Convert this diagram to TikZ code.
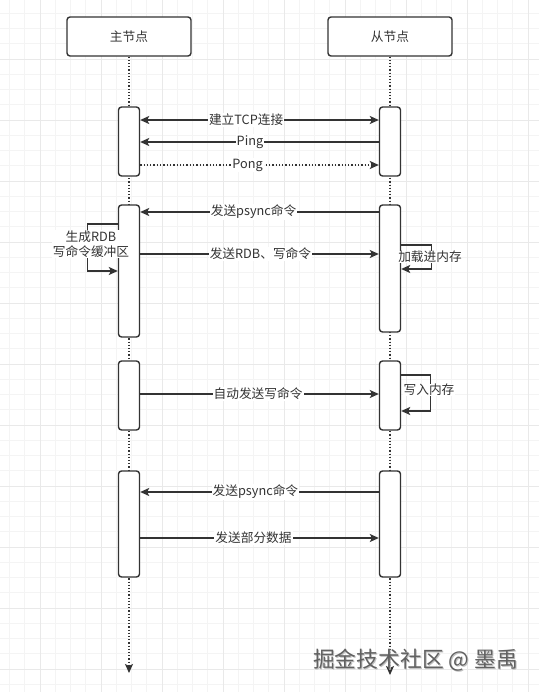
\documentclass[tikz,border=0pt]{standalone}
\usepackage{fontspec}
\setmainfont{Noto Sans CJK SC}
\usetikzlibrary{arrows.meta,calc}
\definecolor{lc}{HTML}{333333}
\definecolor{gminor}{HTML}{F4F4F4}
\definecolor{gmajor}{HTML}{E9E9E9}
\tikzset{
  hdr/.style={draw=lc, fill=white, rounded corners=3pt, line width=1.4pt, minimum width=124pt, minimum height=39pt, inner sep=0pt, font=\fontsize{12.7}{15}\selectfont, text=lc},
  act/.style={draw=lc, fill=white, rounded corners=3pt, line width=1.4pt, minimum width=21pt, inner sep=0pt},
  tip/.style={-{Stealth[length=9pt,width=8pt,inset=2pt]}},
  msg/.style={draw=lc, line width=1.3pt, tip},
  life/.style={draw=lc, line width=1.2pt, dotted, tip},
  lbl/.style={fill=white, inner sep=1pt, text=lc, font=\fontsize{12.7}{15}\selectfont},
}
\begin{document}
\begin{tikzpicture}[x=1pt,y=-1pt]
\useasboundingbox (0,0) rectangle (539,692);
\fill[white] (0,0) rectangle (539,692);
% grid
\foreach \i in {0,...,36} {\draw[gminor, line width=0.8pt] ({-5.75+\i*15.25},0) -- ({-5.75+\i*15.25},692);}
\foreach \i in {0,...,46} {\draw[gminor, line width=0.8pt] (0,{-2+\i*15.25}) -- (539,{-2+\i*15.25});}
\foreach \i in {0,...,9} {\draw[gmajor, line width=0.9pt] ({40+\i*61-61},0) -- ({40+\i*61-61},692);}
\foreach \i in {0,...,12} {\draw[gmajor, line width=0.9pt] (0,{-2+\i*61}) -- (539,{-2+\i*61});}

% header boxes
\node[hdr] (master) at (129,36.5) {主节点};
\node[hdr] (slave) at (390,36.5) {从节点};

% lifelines
\coordinate (mend) at (129,673);
\coordinate (send) at (390,675);
\draw[life] (master.south) -- (mend);
\draw[life] (slave.south) -- (send);

% activation boxes
\node[act, minimum height=69pt] (a1L) at (129,141.5) {};
\node[act, minimum height=69pt] (a1R) at (390,141.5) {};
\node[act, minimum height=132pt] (a2L) at (129,271) {};
\node[act, minimum height=127pt] (a2R) at (390,268.5) {};
\node[act, minimum height=69pt] (a3L) at (129,395.5) {};
\node[act, minimum height=69pt] (a3R) at (390,395.5) {};
\node[act, minimum height=106pt] (a4L) at (129,524) {};
\node[act, minimum height=106pt] (a4R) at (390,524) {};

% region 1
\draw[msg, {Stealth[length=9pt,width=8pt,inset=2pt]}-{Stealth[length=9pt,width=8pt,inset=2pt]}] (a1L.east |- 0,120) -- node[lbl, pos=0.444] (m1) {建立TCP连接} (a1R.west |- 0,120);
\draw[msg] (a1R.west |- 0,142) -- node[lbl, pos=0.54] (m2) {Ping} (a1L.east |- 0,142);
\draw[msg, dotted] (a1L.east |- 0,165) -- node[lbl, pos=0.45] (m3) {Pong} (a1R.west |- 0,165);

% region 2
\draw[msg] (a2R.west |- 0,212) -- node[lbl, pos=0.525] (m4) {发送psync命令} (a2L.east |- 0,212);
\draw[msg] (a2L.east |- 0,254) -- node[lbl, pos=0.504] (m5) {发送RDB、写命令} (a2R.west |- 0,254);
\draw[msg] (a2L.west |- 0,224) -- ++(-30,0) |- (a2L.west |- 0,271);
\node[lbl, align=center, inner sep=0.5pt] (l1) at (91,244) {生成RDB\\写命令缓冲区};
\draw[msg] (a2R.east |- 0,245) -- ++(30,0) |- (a2R.east |- 0,269);
\node[lbl, inner sep=0.5pt] (l2) at (430,257) {加载进内存};

% region 3
\draw[msg] (a3L.east |- 0,394) -- node[lbl, pos=0.494] (m6) {自动发送写命令} (a3R.west |- 0,394);
\draw[msg] (a3R.east |- 0,375) -- ++(29,0) |- (a3R.east |- 0,411);
\node[lbl, inner sep=0.5pt] (l3) at (429,390) {写入内存};

% region 4
\draw[msg] (a4R.west |- 0,492) -- node[lbl, pos=0.517] (m7) {发送psync命令} (a4L.east |- 0,492);
\draw[msg] (a4L.east |- 0,538) -- node[lbl, pos=0.475] (m8) {发送部分数据} (a4R.west |- 0,538);

% watermark
\node[text=black!25, font=\fontsize{21.8}{24}\selectfont] at (416.5,661.5) {掘金技术社区 @ 墨禹};
\node[text=black!62, font=\fontsize{21.8}{24}\selectfont] (wm) at (415.5,660.5) {掘金技术社区 @ 墨禹};
\end{tikzpicture}
\end{document}
